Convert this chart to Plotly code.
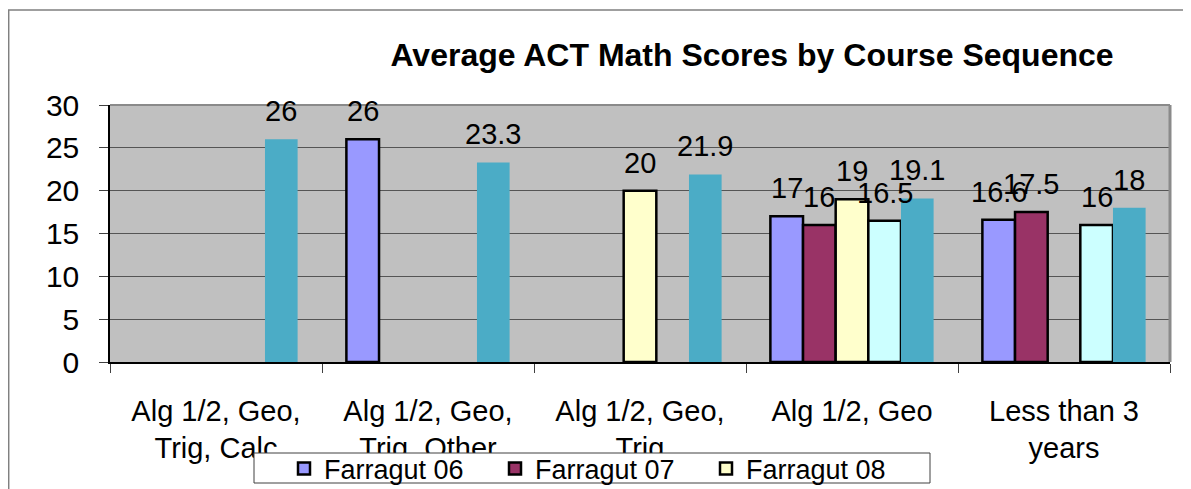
import plotly.graph_objects as go

categories = ["Alg 1/2, Geo,<br>Trig, Calc", "Alg 1/2, Geo,<br>Trig, Other",
              "Alg 1/2, Geo,<br>Trig", "Alg 1/2, Geo", "Less than 3<br>years"]
farragut06 = [None, 26, None, 17, 16.6]
farragut07 = [None, None, None, 16, 17.5]
farragut08 = [None, None, 20, 19, None]
series4 = [None, None, None, 16.5, 16]
series5 = [26, 23.3, 21.9, 19.1, 18]

series = [
    ("Farragut 06", farragut06, "#9999FF", True, True),
    ("Farragut 07", farragut07, "#993366", True, True),
    ("Farragut 08", farragut08, "#FFFFCC", True, True),
    ("Series 4", series4, "#CCFFFF", True, False),
    ("Series 5", series5, "#4BACC6", False, False),
]

FONT = "Liberation Sans, Arial, sans-serif"
# the page body adds an 8px offset, so the figure is sized/positioned for it
OFF = 8
W, H = 1191 - OFF, 489 - OFF
PLOT_L, PLOT_R, PLOT_T, PLOT_B = 110, 1170, 105, 362  # page pixels
L = PLOT_L - OFF
T = PLOT_T - OFF
R = W - (PLOT_R - OFF)
B = H - (PLOT_B - OFF)
PW, PH = W - L - R, H - T - B
BARGAP = 0.23
NSER = len(series)
BAR_W = PW / len(categories) * (1 - BARGAP) / NSER
FS = 29


def px_x(x):  # page px -> paper
    return (x - OFF - L) / PW


def px_y(y):  # page px -> paper
    return (H - B - (y - OFF)) / PH


fig = go.Figure()
annotations = []
for i, (name, vals, color, outline, inlegend) in enumerate(series):
    fig.add_trace(go.Bar(
        x=categories, y=vals, name=name,
        marker=dict(color=color,
                    line=dict(color="black", width=2.5 if outline else 0)),
        showlegend=inlegend,
    ))
    for cat, v in zip(categories, vals):
        if v is None:
            continue
        annotations.append(dict(
            x=cat, y=v, xref="x", yref="y", text=f"{v:g}", showarrow=False,
            xanchor="center", yanchor="bottom",
            xshift=(i - (NSER - 1) / 2) * BAR_W, yshift=10,
            font=dict(size=FS, family=FONT, color="black"),
        ))

fig.update_layout(
    width=W, height=H,
    margin=dict(l=L, r=R, t=T, b=B, autoexpand=False),
    paper_bgcolor="white",
    plot_bgcolor="#C0C0C0",
    barmode="group",
    bargap=BARGAP,
    bargroupgap=0,
    font=dict(family=FONT, color="black"),
    title=dict(text="<b>Average ACT Math Scores by Course Sequence</b>",
               font=dict(size=32, family=FONT, color="black"),
               x=px_x(752), xref="paper", xanchor="center",
               y=1 - (55 - OFF) / H, yref="container", yanchor="middle"),
    legend=dict(orientation="h", x=px_x(284), y=px_y(469),
                xanchor="left", yanchor="middle",
                bgcolor="rgba(0,0,0,0)", borderwidth=0,
                font=dict(size=27, family=FONT, color="black"),
                entrywidth=166, entrywidthmode="pixels",
                itemwidth=30, traceorder="normal"),
    annotations=annotations,
)

fig.update_xaxes(
    showgrid=False, showline=True, linecolor="black", linewidth=1.5,
    ticks="outside", tickson="boundaries", ticklen=9, tickcolor="#404040",
    tickfont=dict(size=FS, family=FONT, color="black"),
    ticklabelstandoff=22,
)
fig.update_yaxes(
    range=[0, 30], dtick=5, showgrid=True, gridcolor="#555555", gridwidth=1,
    showline=True, linecolor="black", linewidth=1.5,
    ticks="outside", ticklen=9, tickcolor="#404040",
    tickfont=dict(size=30, family=FONT, color="black"),
    ticklabelstandoff=14,
    zeroline=False,
)

shapes = [
    # plot area frame (top / right)
    dict(type="line", xref="paper", yref="paper", x0=0, x1=1, y0=1, y1=1,
         line=dict(color="#8a8a8a", width=2)),
    dict(type="line", xref="paper", yref="paper", x0=1, x1=1, y0=0, y1=1,
         line=dict(color="#8a8a8a", width=3)),
    # outer chart border
    dict(type="rect", xref="paper", yref="paper",
         x0=px_x(8.7), x1=px_x(1210), y0=px_y(520), y1=px_y(10),
         line=dict(color="#808080", width=1.5), layer="below"),
    # legend box (covers the bottom of the category labels)
    dict(type="rect", xref="paper", yref="paper",
         x0=px_x(254), x1=px_x(930), y0=px_y(483), y1=px_y(453),
         line=dict(color="#404040", width=1), fillcolor="white",
         layer="above"),
]
fig.update_layout(shapes=shapes)

fig.write_html("out.html")
